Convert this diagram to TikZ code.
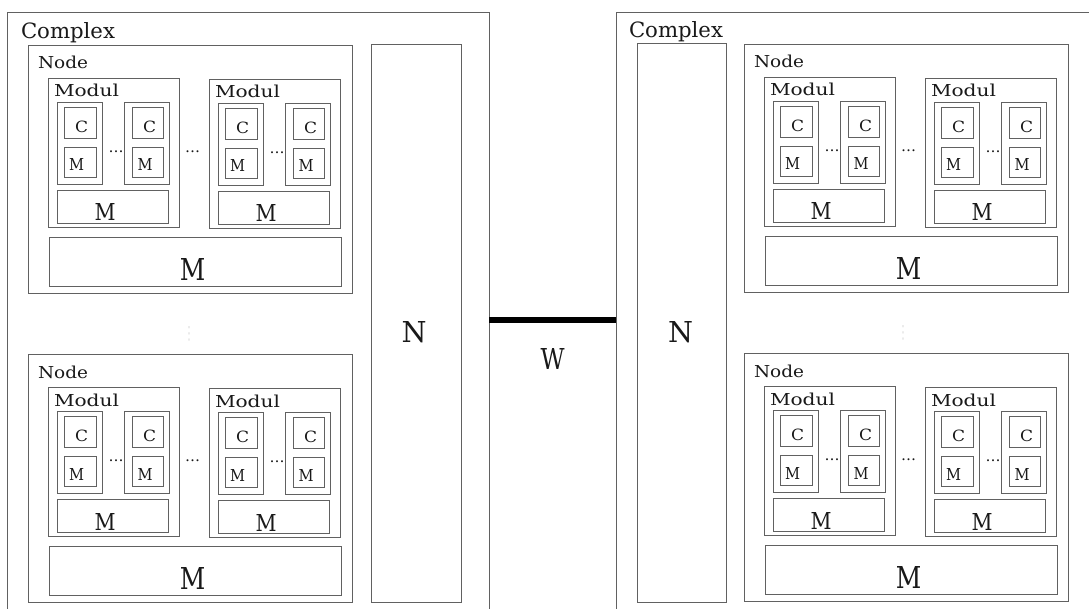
\documentclass[tikz,border=0pt]{standalone}
\usepackage{fontspec}
\setmainfont{DejaVu Serif}
\newfontfamily\symfont{DejaVu Sans}
\usepackage{graphicx}
\tikzset{
  boxst/.style={draw=black!62, line width=0.9pt, inner sep=0pt, outer sep=0pt, anchor=north west},
  lbl/.style={inner sep=0pt, outer sep=0pt, text=black!90},
  vdotst/.style={inner sep=0pt, outer sep=0pt, text=black!50},
  wire/.style={line width=5.5pt, draw=black},
}
\newcommand\bx[5]{\node[boxst, minimum width=#4pt, minimum height=#5pt] (#1) at (#2,#3) {};}
\newcommand\rs[3]{\resizebox{#1pt}{#2pt}{#3}}
% one module: name, x, y (top-left)
\newcommand\modul[3]{%
  \bx{#1}{#2}{#3}{131}{149}
  \node[lbl, anchor=base west] (#1-t) at (#2+6,#3+19) {\rs{65}{12.5}{Modul}};
  \bx{#1-a}{#2+9}{#3+24}{45}{82}
  \bx{#1-ac}{#2+16}{#3+29}{32}{31}
  \node[lbl] (#1-act) at (#2+33.5,#3+48.5) {\rs{13}{11.5}{C}};
  \bx{#1-am}{#2+16}{#3+69}{32}{30}
  \node[lbl] (#1-amt) at (#2+28.5,#3+87) {\rs{15}{12}{M}};
  \bx{#1-b}{#2+76}{#3+24}{45}{82}
  \bx{#1-bc}{#2+84}{#3+29}{31}{31}
  \node[lbl] (#1-bct) at (#2+101.5,#3+48.5) {\rs{13}{11.5}{C}};
  \bx{#1-bm}{#2+84}{#3+69}{31}{30}
  \node[lbl] (#1-bmt) at (#2+97,#3+87) {\rs{15}{12}{M}};
  \node[lbl] (#1-dots) at (#2+68,#3+74) {\resizebox{15pt}{!}{\ldots}};
  \bx{#1-m}{#2+9}{#3+112}{111}{33}
  \node[lbl] (#1-mt) at (#2+57,#3+134.5) {\rs{21}{17}{M}};
}
% one node: name, x, y (top-left)
\newcommand\nodegrp[3]{%
  \bx{#1}{#2}{#3}{324}{248}
  \node[lbl, anchor=base west] (#1-t) at (#2+10,#3+24) {\rs{50}{12.5}{Node}};
  \modul{#1-p}{#2+20}{#3+33}
  \modul{#1-q}{#2+181}{#3+34}
  \node[lbl] (#1-dots) at (#2+164.5,#3+107) {\resizebox{15pt}{!}{\ldots}};
  \bx{#1-m}{#2+21}{#3+192}{292}{49}
  \node[lbl] (#1-mt) at (#2+164.5,#3+224) {\rs{25.5}{22}{M}};
}
\begin{document}
\begin{tikzpicture}[x=1pt,y=-1pt]
  \useasboundingbox (0,0) rectangle (1089,609);
  \clip (0,0) rectangle (1089,609);
  % left complex
  \bx{LC}{7}{12}{482}{616}
  \node[lbl, anchor=base west] (LCt) at (21,38.5) {\rs{94}{16}{Complex}};
  \nodegrp{L1}{28}{45}
  \node[vdotst] (Lvd) at (189,334) {\resizebox{3pt}{13pt}{\symfont ⋮}};
  \nodegrp{L2}{28}{354}
  \bx{LN}{371}{44}{90}{558}
  \node[lbl] (LNt) at (414,332.5) {\rs{25}{21}{N}};
  % right complex
  \bx{RC}{616}{12}{500}{616}
  \node[lbl, anchor=base west] (RCt) at (629,37.5) {\rs{94}{16}{Complex}};
  \bx{RN}{637}{43}{89}{559}
  \node[lbl] (RNt) at (680.5,332.5) {\rs{25}{21}{N}};
  \nodegrp{R1}{744}{44}
  \node[vdotst] (Rvd) at (903,333) {\resizebox{3pt}{13pt}{\symfont ⋮}};
  \nodegrp{R2}{744}{353}
  % link
  \draw[wire] (LC.east) -- (RC.west);
  \node[lbl] (Wt) at (552.5,358.5) {\rs{24}{21}{W}};
\end{tikzpicture}
\end{document}
